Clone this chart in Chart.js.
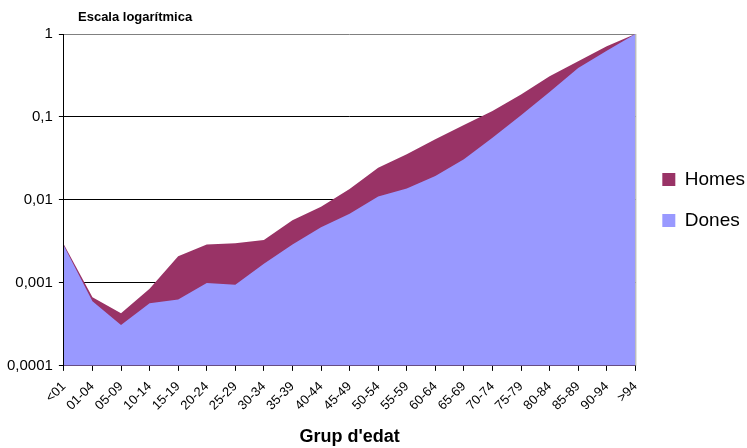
<!DOCTYPE html>
<html>
<head>
<meta charset="utf-8">
<script src="https://cdn.jsdelivr.net/npm/chart.js@4"></script>
<style>
  html, body { margin: 0; padding: 0; background: #fff; }
  #wrap { width: 747px; height: 448px; }
</style>
</head>
<body>
<div id="wrap"><canvas id="chart"></canvas></div>
<script>
const grups = ['<01', '01-04', '05-09', '10-14', '15-19', '20-24', '25-29', '30-34', '35-39', '40-44',
    '45-49', '50-54', '55-59', '60-64', '65-69', '70-74', '75-79', '80-84', '85-89', '90-94', '>94'];
const homes = [0.0029, 0.00067, 0.00043, 0.00085, 0.0021, 0.0029, 0.0030, 0.0033, 0.0057, 0.0083,
    0.0135, 0.0245, 0.0355, 0.054, 0.08, 0.118, 0.187, 0.31, 0.47, 0.71, 1];
const dones = [0.0028, 0.0006, 0.00031, 0.00057, 0.00063, 0.001, 0.00095, 0.0017, 0.0029, 0.0047,
    0.0068, 0.011, 0.0137, 0.0194, 0.031, 0.056, 0.105, 0.2, 0.39, 0.63, 1];
const decades = [0.0001, 0.001, 0.01, 0.1, 1];

const FONT = "'Liberation Sans', Arial, sans-serif";
const LEGEND_PAD = 22;

// title in the top left corner + grey right border of the plot
const extras = {
    id: 'extras',
    afterLayout(chart) {
        // push the legend a bit away from the plot, like the original
        const lg = chart.legend;
        const dx = chart.chartArea.right + 27 - (lg.left + LEGEND_PAD);
        lg.left += dx;
        lg.right += dx;
    },
    afterDraw(chart) {
        const ctx = chart.ctx;
        const area = chart.chartArea;
        ctx.save();
        ctx.strokeStyle = '#a0a0a0';
        ctx.lineWidth = 1;
        ctx.beginPath();
        ctx.moveTo(area.right + 0.5, area.top);
        ctx.lineTo(area.right + 0.5, area.bottom);
        ctx.stroke();
        ctx.fillStyle = '#000';
        ctx.font = 'bold 13px ' + FONT;
        ctx.textBaseline = 'middle';
        ctx.fillText('Escala logarítmica', 78, 17);
        ctx.restore();
    }
};

// eslint-disable-next-line no-undef
new Chart(document.getElementById('chart'), {
    type: 'line',
    data: {
        labels: grups,
        datasets: [{
            label: 'Dones',
            data: dones,
            backgroundColor: '#9999FF',
            borderWidth: 0,
            pointRadius: 0,
            fill: 'start'
        }, {
            label: 'Homes',
            data: homes,
            backgroundColor: '#993366',
            borderWidth: 0,
            pointRadius: 0,
            fill: 'start'
        }]
    },
    options: {
        responsive: true,
        maintainAspectRatio: false,
        animation: false,
        layout: {
            padding: { top: 34, left: 1, right: -3, bottom: 0 }
        },
        plugins: {
            legend: {
                position: 'right',
                fullSize: false,
                reverse: true,
                labels: {
                    boxWidth: 13,
                    boxHeight: 13,
                    padding: LEGEND_PAD,
                    color: '#000',
                    font: { family: FONT, size: 19 }
                }
            },
            tooltip: { enabled: false }
        },
        scales: {
            x: {
                grid: {
                    drawOnChartArea: false,
                    color: '#000',
                    tickLength: 5
                },
                border: { color: '#000' },
                ticks: {
                    autoSkip: false,
                    maxRotation: 45,
                    minRotation: 45,
                    padding: 8,
                    color: '#000',
                    font: { family: FONT, size: 13 }
                },
                title: {
                    display: true,
                    text: "Grup d'edat",
                    color: '#000',
                    font: { family: FONT, size: 18, weight: 'bold' },
                    padding: { top: 5, bottom: 0 }
                }
            },
            y: {
                type: 'logarithmic',
                min: 0.0001,
                max: 1,
                afterBuildTicks: (axis) => {
                    axis.ticks = decades.map(v => ({ value: v }));
                },
                grid: {
                    color: (c) => (c.tick && c.tick.value === 1 ? '#808080' : '#000'),
                    tickColor: '#000',
                    tickLength: 5
                },
                border: { color: '#000' },
                ticks: {
                    color: '#000',
                    padding: 6,
                    font: { family: FONT, size: 15 },
                    callback: (v) => String(v).replace('.', ',')
                }
            }
        }
    },
    plugins: [extras]
});
</script>
</body>
</html>
